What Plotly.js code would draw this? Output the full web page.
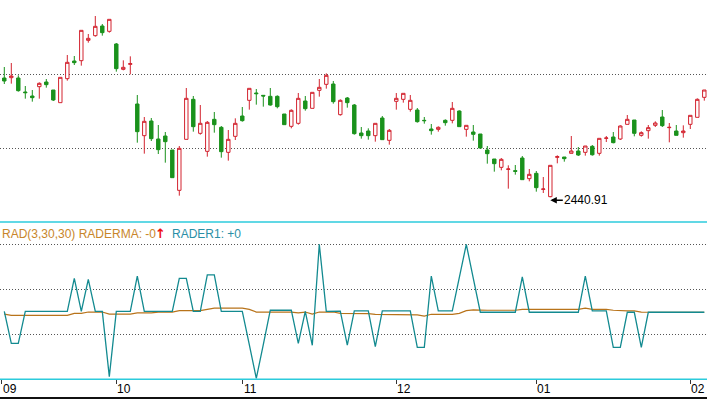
<!DOCTYPE html>
<html>
<head>
<meta charset="utf-8">
<script src="https://cdn.plot.ly/plotly-3.0.1.min.js"></script>
<style>html,body{margin:0;padding:0;background:#fff;}#chart{width:707px;height:399px;}</style>
</head>
<body>
<div id="chart"></div>
<script>
// ---- Price candles (one per trading day) ----
const open = [2584.0, 2584.4, 2584.0, 2567.2, 2562.4, 2573.6, 2579.2, 2569.6, 2554.4, 2583.2,
 2604.4, 2604.8, 2629.2, 2634.8, 2646.4, 2640.0, 2624.8, 2594.4, 2600.4, 2552.8,
 2514.8, 2532.4, 2510.8, 2514.4, 2497.6, 2449.2, 2510.4, 2558.4, 2517.6, 2496.0,
 2534.4, 2524.8, 2494.8, 2514.0, 2538.4, 2557.2, 2566.0, 2563.2, 2562.0, 2562.0,
 2540.8, 2526.0, 2529.6, 2556.4, 2547.6, 2569.2, 2576.4, 2576.8, 2540.0, 2560.0,
 2551.6, 2518.0, 2520.4, 2514.8, 2536.0, 2509.2, 2556.0, 2558.4, 2546.4, 2545.6,
 2533.2, 2522.8, 2522.4, 2533.2, 2533.2, 2544.4, 2522.4, 2519.2, 2516.8, 2497.6,
 2486.8, 2476.8, 2474.4, 2472.8, 2488.0, 2463.2, 2469.6, 2450.4, 2441.6, 2488.8,
 2489.2, 2493.6, 2496.4, 2494.8, 2502.0, 2493.6, 2511.6, 2513.2, 2510.8, 2528.4,
 2533.6, 2515.2, 2520.8, 2527.2, 2537.2, 2524.4, 2520.4, 2518.4, 2528.4, 2536.8,
 2560.8];
const high = [2597.2, 2602.0, 2587.2, 2574.4, 2569.6, 2578.8, 2582.8, 2569.6, 2584.8, 2611.6,
 2610.4, 2641.2, 2636.8, 2658.4, 2648.8, 2654.4, 2626.0, 2605.2, 2610.0, 2563.6,
 2537.2, 2536.0, 2527.6, 2519.2, 2497.6, 2502.4, 2572.0, 2562.4, 2551.6, 2532.4,
 2543.2, 2526.4, 2521.6, 2535.6, 2549.2, 2571.6, 2570.8, 2563.2, 2572.0, 2563.2,
 2540.8, 2546.4, 2566.0, 2562.4, 2566.8, 2582.8, 2589.6, 2580.4, 2558.4, 2561.2,
 2552.8, 2525.2, 2523.6, 2529.6, 2538.4, 2522.8, 2566.0, 2565.6, 2563.6, 2548.0,
 2537.2, 2528.8, 2526.0, 2534.4, 2555.2, 2545.2, 2527.2, 2527.6, 2516.8, 2502.4,
 2486.8, 2488.0, 2479.2, 2479.6, 2490.4, 2474.8, 2472.4, 2465.2, 2479.2, 2491.2,
 2489.2, 2514.4, 2501.2, 2502.4, 2503.6, 2511.6, 2514.4, 2519.2, 2527.2, 2539.6,
 2533.6, 2520.0, 2527.6, 2532.0, 2545.6, 2530.0, 2527.6, 2527.2, 2539.2, 2559.6,
 2569.6];
const low = [2576.8, 2577.2, 2567.6, 2559.2, 2555.6, 2559.2, 2572.4, 2556.4, 2554.4, 2580.8,
 2599.6, 2598.8, 2626.4, 2633.6, 2634.8, 2638.4, 2591.6, 2593.2, 2588.4, 2506.4,
 2493.2, 2508.4, 2492.8, 2482.4, 2464.4, 2442.8, 2510.4, 2519.6, 2516.0, 2489.6,
 2518.4, 2488.4, 2484.8, 2509.6, 2531.6, 2546.0, 2552.0, 2549.6, 2550.8, 2547.6,
 2528.0, 2523.6, 2528.0, 2544.8, 2547.6, 2561.6, 2571.2, 2553.2, 2538.8, 2548.4,
 2516.0, 2511.2, 2510.0, 2507.6, 2509.6, 2504.0, 2546.0, 2554.4, 2543.6, 2530.4,
 2529.2, 2516.0, 2519.6, 2526.8, 2529.6, 2525.6, 2513.6, 2508.8, 2499.2, 2481.2,
 2471.6, 2473.2, 2451.2, 2468.0, 2462.0, 2460.0, 2447.6, 2446.0, 2440.91, 2481.6,
 2483.6, 2493.6, 2490.4, 2490.8, 2490.8, 2490.8, 2507.2, 2505.6, 2509.6, 2528.4,
 2514.0, 2513.6, 2511.2, 2525.2, 2525.2, 2506.8, 2515.2, 2512.4, 2522.8, 2536.8,
 2556.8];
const close = [2580.4, 2586.4, 2568.8, 2566.4, 2560.4, 2577.6, 2576.0, 2557.6, 2584.8, 2602.8,
 2602.4, 2641.2, 2631.6, 2646.0, 2638.4, 2654.4, 2595.2, 2596.8, 2601.2, 2519.6,
 2532.0, 2511.2, 2498.0, 2507.6, 2464.4, 2499.6, 2559.6, 2525.6, 2529.6, 2530.8,
 2528.0, 2495.6, 2510.4, 2529.6, 2532.8, 2571.6, 2565.2, 2562.4, 2551.6, 2549.6,
 2528.0, 2545.2, 2559.6, 2547.2, 2566.8, 2572.8, 2587.2, 2555.6, 2557.2, 2554.4,
 2517.2, 2514.8, 2514.8, 2529.6, 2510.0, 2521.2, 2559.6, 2565.6, 2557.2, 2531.6,
 2532.8, 2520.8, 2524.8, 2530.4, 2547.6, 2525.6, 2527.2, 2516.4, 2500.0, 2493.2,
 2481.2, 2486.4, 2474.8, 2472.0, 2462.0, 2468.4, 2452.4, 2450.8, 2479.2, 2489.6,
 2487.2, 2496.4, 2491.6, 2502.4, 2491.9, 2511.6, 2512.0, 2506.4, 2526.4, 2534.4,
 2517.6, 2518.4, 2524.4, 2530.0, 2526.8, 2524.8, 2515.2, 2520.4, 2539.2, 2558.4,
 2569.6];

// ---- RAD(3,30,30) indicator ----
const rader1 = [0.02, -1.40, -1.40, 0.02, 0.02, 0.02, 0.02, 0.02, 0.02, 0.02,
 1.49, 0.02, 1.44, 0.02, 0.02, -2.88, 0.02, 0.02, 0.02, 1.59,
 0.02, 0.02, 0.02, 0.02, 0.02, 1.49, 1.49, 0.02, 0.02, 1.64,
 1.64, 0.02, 0.02, 0.02, 0.02, -1.46, -2.96, -1.46, 0.07, 0.07,
 0.07, 0.07, -1.40, 0.02, -1.49, 3.0, 0.02, 0.03, 0.03, -1.48,
 0.04, 0.04, 0.04, -1.55, 0.04, 0.04, 0.04, 0.04, 0.04, -1.58,
 -1.58, 1.59, 0.04, 0.04, 0.04, 1.52, 3.0, 1.49, -0.02, -0.02,
 -0.02, -0.02, -0.02, -0.02, 1.55, -0.02, -0.02, -0.02, -0.02, -0.02,
 -0.02, -0.02, -0.02, 1.59, 0.04, 0.04, 0.04, -1.58, -1.58, -0.02,
 -0.02, -1.58, -0.02, -0.02, -0.02, -0.02, -0.02, -0.02, -0.02, -0.02,
 -0.02];
const raderma = [-0.10, -0.16, -0.16, -0.16, -0.16, -0.16, -0.16, -0.16, -0.16, -0.16,
 -0.07, -0.07, -0.01, -0.01, -0.01, -0.10, -0.10, -0.10, -0.10, -0.05,
 -0.05, -0.05, -0.01, -0.01, -0.01, 0.05, 0.05, 0.05, 0.05, 0.11,
 0.16, 0.16, 0.16, 0.16, 0.16, 0.11, -0.01, -0.01, -0.01, -0.01,
 -0.01, -0.01, -0.05, -0.01, -0.10, -0.01, -0.01, -0.01, -0.07, -0.07,
 -0.08, -0.08, -0.08, -0.11, -0.11, -0.11, -0.11, -0.11, -0.11, -0.14,
 -0.19, -0.11, -0.11, -0.11, -0.11, -0.07, 0.05, 0.09, 0.07, 0.07,
 0.07, 0.07, 0.07, 0.07, 0.11, 0.11, 0.11, 0.11, 0.11, 0.11,
 0.11, 0.11, 0.11, 0.16, 0.11, 0.11, 0.11, 0.07, 0.04, 0.04,
 0.04, -0.01, -0.02, -0.02, -0.02, -0.02, -0.02, -0.02, -0.02, -0.02,
 -0.02];

// ---- Month tick labels (positions are trading-day indices) ----
const monthTickIdx = [-0.4, 16, 34, 56, 76, 98];
const monthLabels = ['09', '10', '11', '12', '01', '02'];
const lowLabel = '2440.91';
const lowIdx = 78;

const idx = open.map((_, i) => i);

const W = 707, H = 399;
const py = v => 1 - v / H;   // pixel row -> paper fraction

const RED = '#d3232f', GREEN = '#1a921c';
const TEAL = '#138a90', ORANGE = '#b8731a', CYAN = '#2ccbdc';
const FONT = 'Arial, "Liberation Sans", sans-serif';

const traces = [
  {
    type: 'candlestick', x: idx, open: open, high: high, low: low, close: close,
    xaxis: 'x', yaxis: 'y',
    increasing: {line: {color: RED, width: 1}, fillcolor: '#ffffff'},
    decreasing: {line: {color: GREEN, width: 1}, fillcolor: GREEN},
    whiskerwidth: 0, showlegend: false, hoverinfo: 'skip'
  },
  {
    type: 'scatter', mode: 'lines', x: idx, y: raderma, xaxis: 'x', yaxis: 'y2',
    line: {color: ORANGE, width: 1.2}, showlegend: false, hoverinfo: 'skip'
  },
  {
    type: 'scatter', mode: 'lines', x: idx, y: rader1, xaxis: 'x', yaxis: 'y2',
    line: {color: TEAL, width: 1.3}, showlegend: false, hoverinfo: 'skip'
  }
];

const monthAnnots = monthTickIdx.map((t, k) => ({
  xref: 'x', yref: 'paper', x: t, y: py(388.5), xshift: 8,
  xanchor: 'center', yanchor: 'middle', showarrow: false,
  text: monthLabels[k], font: {family: FONT, size: 12, color: '#000'}
}));

const layout = {
  width: W, height: H,
  margin: {l: 0, r: 0, t: 0, b: 0, pad: 0},
  paper_bgcolor: '#ffffff', plot_bgcolor: '#ffffff',
  showlegend: false,
  boxgap: 0.3,
  font: {family: FONT, size: 12, color: '#000'},
  xaxis: {
    anchor: 'y2', range: [-0.614, 100.386], fixedrange: true,
    rangeslider: {visible: false},
    showgrid: false, zeroline: false, showline: false,
    tickmode: 'array', tickvals: monthTickIdx, ticktext: monthLabels,
    ticks: 'outside', ticklen: 4, tickwidth: 1, tickcolor: '#333',
    showticklabels: false
  },
  yaxis: {
    domain: [py(222), 1], range: [2411.2, 2677.6], fixedrange: true,
    showticklabels: false, ticks: '', zeroline: false, showline: false,
    tickmode: 'array', tickvals: [2500, 2588.8],
    showgrid: true, gridcolor: '#555', gridwidth: 1, griddash: '1px,2px'
  },
  yaxis2: {
    domain: [py(379.3), py(221.8)], range: [-3, 4], fixedrange: true,
    showticklabels: false, ticks: '', zeroline: false, showline: false,
    tickmode: 'array', tickvals: [-1, 1, 3],
    showgrid: true, gridcolor: '#555', gridwidth: 1, griddash: '1px,2px'
  },
  shapes: [
    {type: 'line', xref: 'paper', yref: 'paper', x0: 0, x1: 1, y0: py(222), y1: py(222),
     line: {color: CYAN, width: 1.5}},
    {type: 'line', xref: 'paper', yref: 'paper', x0: 0, x1: 1, y0: py(379.3), y1: py(379.3),
     line: {color: CYAN, width: 1.5}},
    {type: 'rect', xref: 'paper', yref: 'paper', x0: 0, x1: 1, y0: 0, y1: py(397),
     line: {width: 0}, fillcolor: '#111'}
  ],
  annotations: [
    {xref: 'x', yref: 'y', x: lowIdx, y: low[lowIdx], yshift: -3,
     text: lowLabel, showarrow: true, arrowhead: 2, arrowsize: 1, arrowwidth: 1.3,
     arrowcolor: '#000', ax: 36, ay: 0, standoff: 0,
     font: {family: FONT, size: 12, color: '#000'}},
    {xref: 'paper', yref: 'paper', x: 0, y: py(233.5), xanchor: 'left', yanchor: 'middle',
     showarrow: false, text: 'RAD(3,30,30) RADERMA: -0',
     font: {family: FONT, size: 12, color: '#c8862a'}},
    {xref: 'paper', yref: 'paper', x: 160.5 / W, y: py(233), xanchor: 'center', yanchor: 'middle',
     showarrow: false, text: '<b>↑</b>',
     font: {family: 'DejaVu Sans, sans-serif', size: 13, color: '#ee1111'}},
    {xref: 'paper', yref: 'paper', x: 170 / W, y: py(233.5), xanchor: 'left', yanchor: 'middle',
     showarrow: false, text: 'RADER1: +0',
     font: {family: FONT, size: 12, color: '#2a8fa6'}}
  ].concat(monthAnnots)
};

Plotly.newPlot('chart', traces, layout, {displayModeBar: false, staticPlot: true});
</script>
</body>
</html>
